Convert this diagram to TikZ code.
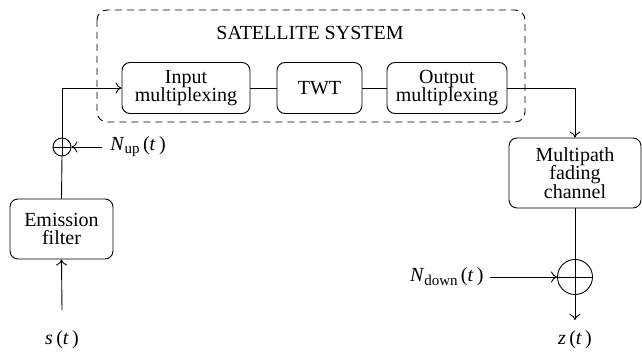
\documentclass[tikz,border=0pt]{standalone}
\usepackage{fontspec}
\setmainfont{Liberation Serif}
\usetikzlibrary{arrows.meta}
\begin{document}
\begin{tikzpicture}[x=1pt,y=-1pt,
  font=\fontsize{20}{18.5}\selectfont,
  line width=0.9pt, draw=black, text=black,
  blk/.style={draw, rounded corners=8pt, align=center, inner sep=0pt},
  sumnode/.style={circle, draw, inner sep=0pt},
  arr/.style={-{To[length=6pt,width=11pt]}},
  lbl/.style={inner sep=2pt}]
\useasboundingbox (0,0) rectangle (642,352);
% satellite system frame
\draw[dash pattern=on 7pt off 5pt, rounded corners=10pt] (97,10) rectangle (525,122);
\node (sat) at (310,33) {SATELLITE SYSTEM};
% blocks
\node[blk, minimum width=128pt, minimum height=51pt] (inp) at (186,88) {Input\\multiplexing};
\node[blk, minimum width=85pt, minimum height=51pt] (twt) at (319.5,88) {TWT};
\node[blk, minimum width=120pt, minimum height=51pt] (out) at (447,88) {Output\\multiplexing};
\node[blk, minimum width=132pt, minimum height=70pt] (mp) at (575,173) {Multipath\\fading\\channel};
\node[blk, minimum width=103pt, minimum height=60pt] (ef) at (61.5,229) {Emission\\filter};
% summing junctions
\node[sumnode, minimum size=18pt] (su) at (62,147) {};
\node[sumnode, minimum size=35pt] (sd) at (575,277) {};
\draw (su.west) -- (su.east);
\draw (sd.north) -- (sd.south);
\draw (sd.west) -- (sd.east);
% labels
\node (s) at (62,340) {\textit{s}\,(\textit{t}\,)};
\node (z) at (575,340) {\textit{z}\,(\textit{t}\,)};
\node[lbl, anchor=west] (nup) at (108,147) {\textit{N}\raisebox{-0.35ex}{\fontsize{15}{15}\selectfont up}\,(\textit{t}\,)};
\node[lbl, anchor=east] (nd) at (486,277) {\textit{N}\raisebox{-0.35ex}{\fontsize{15}{15}\selectfont down}\,(\textit{t}\,)};
\coordinate (sin) at (62,310);
\coordinate (zend) at (575,320);
% connectors
\draw[arr] (sin) -- (ef.south);
\draw (ef.north) -- (su.south);
\draw[arr] (su.south) |- (inp.west);
\draw (inp) -- (twt);
\draw (twt) -- (out);
\draw[arr] (out.east) -| (mp.north);
\draw (mp.south) -- (sd.north);
\draw[arr] (sd.south) -- (zend);
\draw[arr] ([xshift=-6pt]nup.west) -- (su.east);
\draw[arr] ([xshift=4pt]nd.east) -- (sd.west);
\end{tikzpicture}
\end{document}
